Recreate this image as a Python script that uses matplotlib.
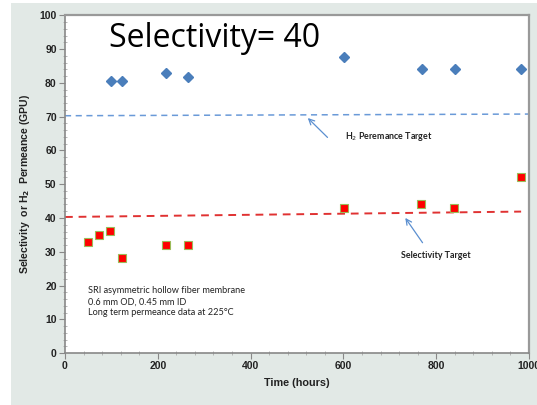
import matplotlib.pyplot as plt
from matplotlib.patches import Rectangle
from matplotlib.ticker import MultipleLocator

# H2 permeance (GPU) vs time
perm_hours = [99, 122, 217, 266, 602, 769, 840, 982]
perm_gpu = [80.5, 80.5, 83.0, 81.7, 87.7, 84.1, 84.1, 84.1]

# H2/CO2 selectivity vs time
sel_hours = [50, 74, 98, 122, 218, 266, 601, 768, 839, 982]
sel_vals = [33.0, 35.0, 36.1, 28.1, 32.0, 32.0, 43.1, 44.1, 43.1, 52.2]

# target lines (start, end)
perm_target_x = [0, 1000]
perm_target_y = [70.3, 70.8]
sel_target_x = [0, 983]
sel_target_y = [40.3, 41.9]

fig = plt.figure(figsize=(5.37, 4.05), dpi=100)
fig.patch.set_facecolor("white")
fig.patches.append(Rectangle((11 / 537, 0), 526 / 537, 402 / 405,
                             transform=fig.transFigure, facecolor="#e2e9e6",
                             edgecolor="none", zorder=-5))

ax = fig.add_axes([65 / 537, 52 / 405, 464 / 537, 337.5 / 405])
ax.set_facecolor("white")

ax.plot(perm_target_x, perm_target_y, ls=(0, (4, 3)), color="#6a9ad8", lw=1.1)
ax.plot(sel_target_x, sel_target_y, ls=(0, (4, 3)), color="#e03232", lw=1.4)

ax.plot(perm_hours, perm_gpu, "D", color="#4a7ebb", ms=5.4, mec="#4a7ebb")
ax.plot(sel_hours, sel_vals, "s", color="#ff0000", ms=5.2, mec="#9bbb59", mew=0.8)

ax.set_xlim(0, 1000)
ax.set_ylim(0, 100)
ax.xaxis.set_major_locator(MultipleLocator(200))
ax.xaxis.set_minor_locator(MultipleLocator(40))
ax.yaxis.set_major_locator(MultipleLocator(10))
ax.yaxis.set_minor_locator(MultipleLocator(2))
ax.tick_params(which="major", direction="out", length=4, color="#888888",
               labelsize=7.5, pad=2)
ax.tick_params(which="minor", direction="inout", length=3, color="#aaaaaa")
for lab in ax.get_xticklabels() + ax.get_yticklabels():
    lab.set_fontweight("bold")
    lab.set_family("Liberation Sans")
    lab.set_color("#222222")

for side in ["left", "bottom"]:
    ax.spines[side].set_color("#888888")
    ax.spines[side].set_linewidth(1.2)
for side in ["top", "right"]:
    ax.spines[side].set_color("#999999")
    ax.spines[side].set_linewidth(1.6)

ax.set_xlabel("Time (hours)", fontsize=7.8, fontweight="bold",
              family="Liberation Sans", labelpad=5, color="#222222")
ax.set_ylabel("Selectivity  or H$_\\mathbf{2}$  Permeance (GPU)", fontsize=7.6,
              fontweight="bold", family="Liberation Sans", labelpad=5,
              color="#222222")

ax.text(95, 90.6, "Selectivity= 40", fontsize=23, family="Open Sans",
        va="baseline", ha="left")

ax.text(50, 15.2, "SRI asymmetric hollow fiber membrane\n"
        "0.6 mm OD, 0.45 mm ID\n"
        "Long term permeance data at 225°C",
        fontsize=6.6, family="Lato", va="center", ha="left",
        linespacing=1.25, color="#222222")

ax.annotate("", xy=(519, 70.2), xytext=(570, 63.3),
            arrowprops=dict(arrowstyle="->", color="#5b8fd0", lw=0.9))
ax.text(604, 64.0, "H$_2$ Peremance Target", fontsize=6.4, family="Lato",
        fontweight="bold", va="center", ha="left", color="#222222")

ax.annotate("", xy=(730, 40.7), xytext=(774, 32.0),
            arrowprops=dict(arrowstyle="->", color="#5b8fd0", lw=0.9))
ax.text(724, 29.0, "Selectivity Target", fontsize=6.4, family="Lato",
        fontweight="bold", va="center", ha="left", color="#222222")

fig.savefig("out.png", dpi=100)
